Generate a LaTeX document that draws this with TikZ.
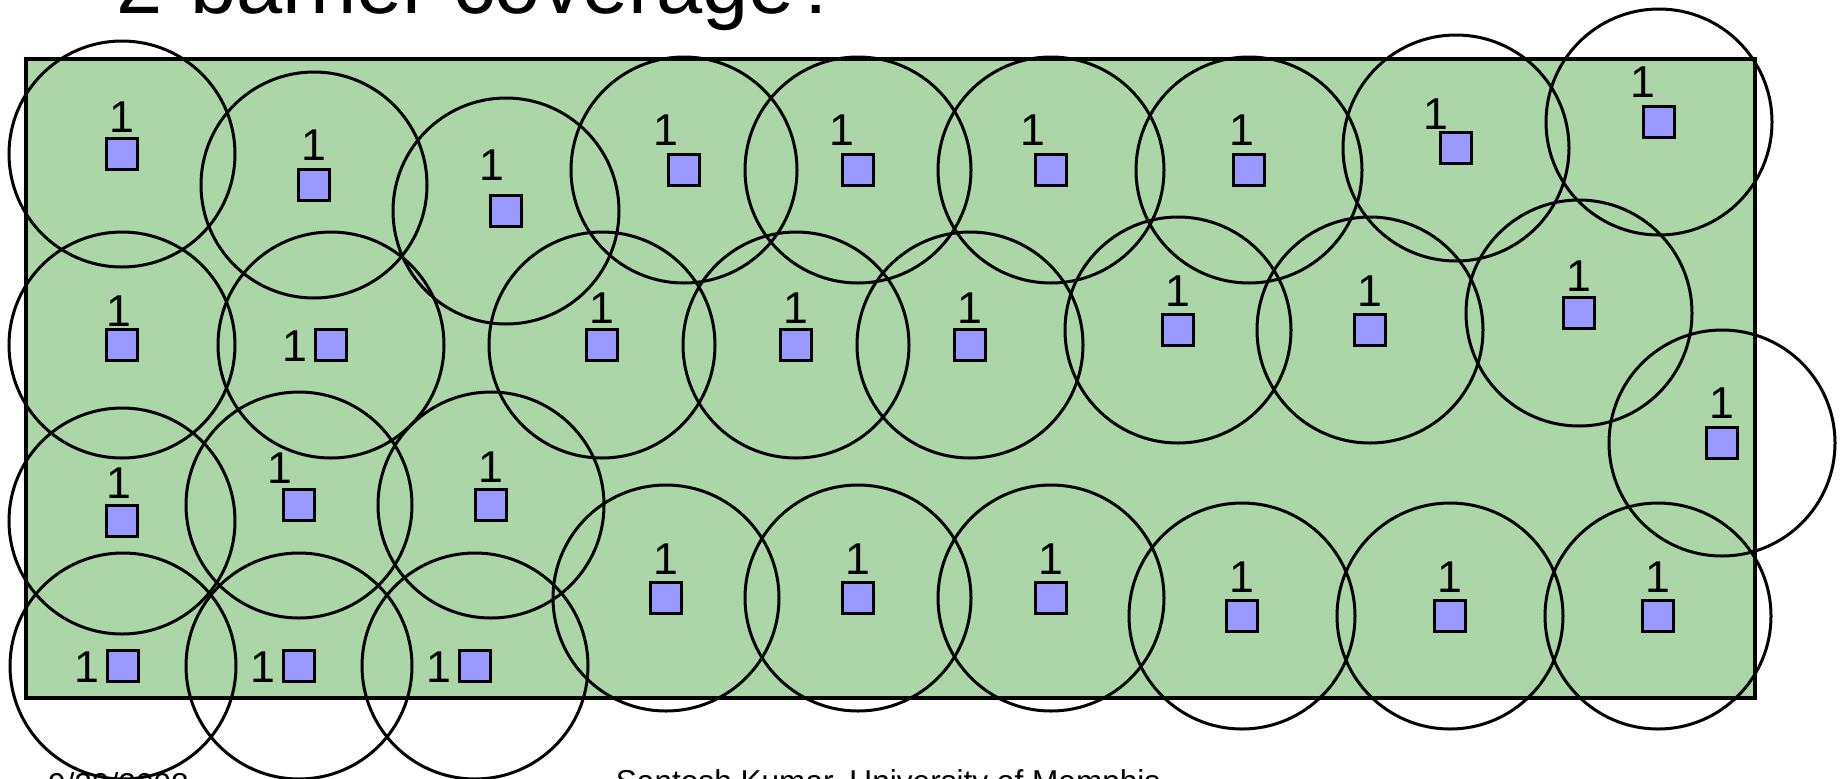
\documentclass[tikz,border=0pt]{standalone}
\usepackage{fontspec}
\setmainfont{Liberation Sans}
\definecolor{fieldgreen}{RGB}{172,214,168}
\definecolor{sensorblue}{RGB}{153,153,255}
\begin{document}
\begin{tikzpicture}[x=0.5pt,y=-0.5pt,
  rangecircle/.style={circle,draw=black,line width=1.5pt,minimum size=113pt,inner sep=0pt},
  sensorbox/.style={rectangle,draw=black,fill=sensorblue,line width=1.7pt,minimum size=15.3pt,inner sep=0pt},
  sensorlabel/.style={font=\fontsize{22.3pt}{24pt}\selectfont,inner sep=0pt,anchor=base},
  fieldbox/.style={rectangle,draw=black,fill=fieldgreen,line width=1.8pt,inner sep=0pt,minimum width=864.5pt,minimum height=319.5pt},
  ]
\clip (0,0) rectangle (1846,778);
\fill[white] (0,0) rectangle (1846,778);
\node[fieldbox] (field) at (890.5,378.5) {};
\foreach \i/\x/\y/\dx/\dy in {
  1/122/154/0/21.5, 2/314/185/0/25, 3/506/211/-14/31, 4/684/170/-18/25,
  5/858/170/-16/25, 6/1051/170/-18/25, 7/1249/170/-7/25, 8/1456/148/-20/19,
  9/1659/122/-16/25, 10/122/345/-3/19, 11/331/345/-36/-16.5, 12/602/345/0/21.5,
  13/796/345/0/21.5, 14/970/345/0/21.5, 15/1178/330/0/24, 16/1370/330/0/24,
  17/1579/313/0/21.5, 18/1722/443/0/24.5, 19/122/521/-3/23, 20/299/505/-19/21.5,
  21/491/505/0/23, 22/666/598/0/24, 23/858/598/0/24, 24/1051/598/0/24,
  25/1242/616/0/24, 26/1450/616/0/24, 27/1658/616/0/24,
  28/123/666/-36/-16.5, 29/299/666/-36/-16.5, 30/475/666/-36/-16.5}
{
  \node[rangecircle] (c\i) at (\x,\y) {};
}
\foreach \i/\x/\y/\dx/\dy in {
  1/122/154/0/21.5, 2/314/185/0/25, 3/506/211/-14/31, 4/684/170/-18/25,
  5/858/170/-16/25, 6/1051/170/-18/25, 7/1249/170/-7/25, 8/1456/148/-20/19,
  9/1659/122/-16/25, 10/122/345/-3/19, 11/331/345/-36/-16.5, 12/602/345/0/21.5,
  13/796/345/0/21.5, 14/970/345/0/21.5, 15/1178/330/0/24, 16/1370/330/0/24,
  17/1579/313/0/21.5, 18/1722/443/0/24.5, 19/122/521/-3/23, 20/299/505/-19/21.5,
  21/491/505/0/23, 22/666/598/0/24, 23/858/598/0/24, 24/1051/598/0/24,
  25/1242/616/0/24, 26/1450/616/0/24, 27/1658/616/0/24,
  28/123/666/-36/-16.5, 29/299/666/-36/-16.5, 30/475/666/-36/-16.5}
{
  \node[sensorbox] (s\i) at (\x,\y) {};
  \node[sensorlabel] (l\i) at (\x+\dx,\y-\dy) {1};
}
\node[font=\fontsize{41.5pt}{44pt}\selectfont,anchor=base west,inner sep=0pt] (title) at (116.5,13) {2-barrier coverage?};
\node[font=\fontsize{15.8pt}{18pt}\selectfont,anchor=base west,inner sep=0pt] (datetext) at (47.7,795) {9/29/2008};
\node[font=\fontsize{15.8pt}{18pt}\selectfont,anchor=base west,inner sep=0pt] (author) at (615.5,792.6) {Santosh Kumar, University of Memphis};
\end{tikzpicture}
\end{document}
